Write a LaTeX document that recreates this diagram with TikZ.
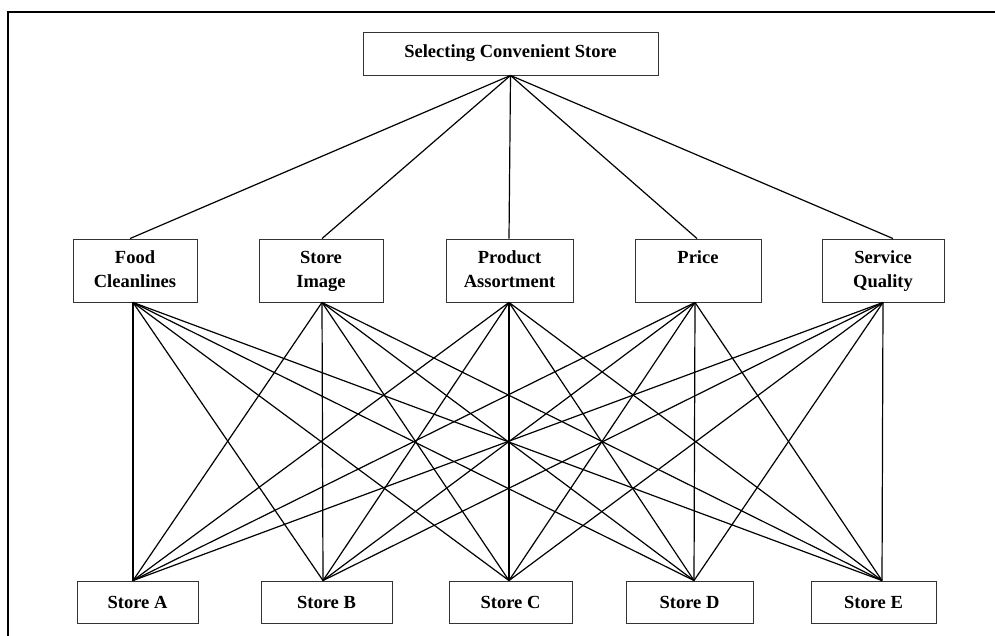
\documentclass[tikz,border=0pt]{standalone}
\usepackage{fontspec}
\setmainfont{Liberation Serif}
\usetikzlibrary{calc}
\begin{document}
\begin{tikzpicture}[x=1pt,y=-1pt,
  box/.style={draw=black!80, line width=0.9pt, inner sep=0pt, align=center,
    font=\fontsize{18.5}{24.5}\selectfont\bfseries},
  crit/.style={box, minimum height=63pt},
  store/.style={box, minimum height=42pt},
  link/.style={line width=1.2pt, draw=black},
  frame/.style={line width=2.6pt, draw=black}]
\useasboundingbox (0,0) rectangle (995,636);
\fill[white] (0,0) rectangle (995,636);
\draw[frame] (8,640) -- (8,12) -- (1000,12);

% goal
\node[box, minimum width=295pt, minimum height=43pt] (goal) at (510.5,53.5) {Selecting Convenient Store};

% criteria
\node[crit, minimum width=124pt] (c1) at (135,270.5) {\strut Food\\\strut Cleanlines};
\node[crit, minimum width=124pt] (c2) at (321,270.5) {\strut Store\\\strut Image};
\node[crit, minimum width=127pt] (c3) at (509.5,270.5) {\strut Product\\\strut Assortment};
\node[crit, minimum width=126pt] (c4) at (698,270.5) {\strut Price\\\strut};
\node[crit, minimum width=122pt] (c5) at (883,270.5) {\strut Service\\\strut Quality};

% alternatives
\node[store, minimum width=121pt] (sA) at (137.5,602) {Store A};
\node[store, minimum width=131pt] (sB) at (326.5,602) {Store B};
\node[store, minimum width=123pt] (sC) at (510.5,602) {Store C};
\node[store, minimum width=127pt] (sD) at (689.5,602) {Store D};
\node[store, minimum width=125pt] (sE) at (873.5,602) {Store E};

% attachment points
\coordinate (t1) at ($(c1.north)+(-5,0)$);
\coordinate (t2) at ($(c2.north)+(1,0)$);
\coordinate (t3) at ($(c3.north)+(-0.5,0)$);
\coordinate (t4) at ($(c4.north)+(-1,0)$);
\coordinate (t5) at ($(c5.north)+(10,0)$);
\coordinate (b1) at ($(c1.south)+(-2,0)$);
\coordinate (b2) at ($(c2.south)+(1,0)$);
\coordinate (b3) at ($(c3.south)+(-0.5,0)$);
\coordinate (b4) at ($(c4.south)+(-3,0)$);
\coordinate (b5) at ($(c5.south)+(0,0)$);
\coordinate (pA) at ($(sA.north)+(-4.5,0)$);
\coordinate (pB) at ($(sB.north)+(-3.5,0)$);
\coordinate (pC) at ($(sC.north)+(-1.5,0)$);
\coordinate (pD) at ($(sD.north)+(4.5,0)$);
\coordinate (pE) at ($(sE.north)+(8.5,0)$);

% goal to criteria
\foreach \t in {t1,t2,t3,t4,t5}
  \draw[link] (goal.south) -- (\t);

% criteria to alternatives
\foreach \b in {b1,b2,b3,b4,b5}
  \foreach \p in {pA,pB,pC,pD,pE}
    \draw[link] (\b) -- (\p);
\end{tikzpicture}
\end{document}
